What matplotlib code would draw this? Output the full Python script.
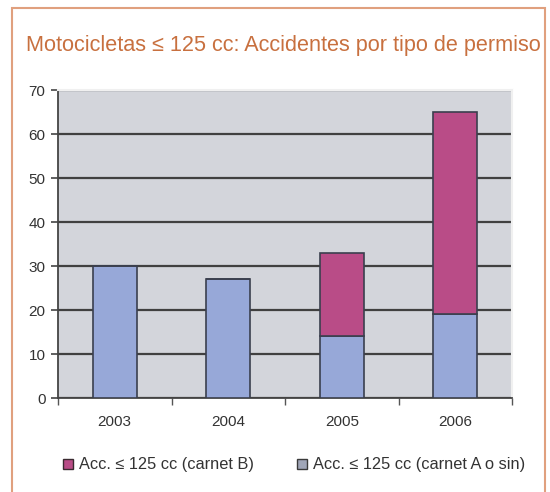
import matplotlib.pyplot as plt
from matplotlib.patches import Rectangle, Patch

# data
years = ['2003', '2004', '2005', '2006']
carnet_a = [30, 27, 14, 19]   # Acc. <= 125 cc (carnet A o sin)
carnet_b = [0, 0, 19, 46]     # Acc. <= 125 cc (carnet B), stacked on top
y_ticks = [0, 10, 20, 30, 40, 50, 60, 70]

blue = '#97A8D8'
pink = '#B94C87'
orange = '#C8703F'

plt.rcParams['font.family'] = ['Liberation Sans', 'DejaVu Sans']

fig = plt.figure(figsize=(5.5, 4.92), dpi=100)

# orange frame around the whole graphic
fig.patches.append(Rectangle((12 / 550, -0.05), 533 / 550, 1.05 - 8 / 492,
                             transform=fig.transFigure, fill=False,
                             edgecolor='#E0A07E', linewidth=1.5))

fig.text(283 / 550, 1 - 45 / 492, 'Motocicletas \u2264 125 cc: Accidentes por tipo de permiso',
         ha='center', va='center', color=orange, fontsize=15.6)

ax = fig.add_axes([58 / 550, 1 - 398 / 492, 454 / 550, 308 / 492])
ax.set_facecolor('#D3D5DB')

x = range(len(years))
ax.bar(x, carnet_a, width=0.39, color=blue, edgecolor='#3A3F4E', linewidth=1.2, zorder=3)
ax.bar(x, carnet_b, width=0.39, bottom=carnet_a, color=pink, edgecolor='#3A3F4E',
       linewidth=1.2, zorder=3)

ax.set_xlim(-0.5, 3.5)
ax.set_ylim(0, 70)
ax.set_yticks(y_ticks)
ax.yaxis.grid(True, color='#404040', linewidth=1.6, zorder=1)
ax.set_axisbelow(True)

ax.set_xticks(list(x))
ax.set_xticklabels(years)
ax.set_xticks([-0.5, 0.5, 1.5, 2.5, 3.5], minor=True)
ax.tick_params(axis='x', which='major', length=0, pad=12, labelsize=11, labelcolor='#333333')
ax.tick_params(axis='x', which='minor', length=5, width=1, color='#555555', direction='out')
ax.tick_params(axis='y', length=5, width=1.2, color='#444444', labelsize=11,
               labelcolor='#333333', pad=4)

for side in ['top', 'right']:
    ax.spines[side].set_color('#F0F0F0')
    ax.spines[side].set_linewidth(1.5)
for side in ['left', 'bottom']:
    ax.spines[side].set_color('#444444')
    ax.spines[side].set_linewidth(1.3)

handles = [Patch(facecolor=pink, edgecolor='#3A2A30', label='Acc. \u2264 125 cc (carnet B)'),
           Patch(facecolor='#A0A6B8', edgecolor='#3A3A3A', label='Acc. \u2264 125 cc (carnet A o sin)')]
fig.legend(handles=handles, loc='center', bbox_to_anchor=(294 / 550, 1 - 465 / 492), ncol=2,
           frameon=False, fontsize=11.8, handlelength=0.6, handleheight=0.6,
           handletextpad=0.4, columnspacing=2.6, labelcolor='#333333')

fig.savefig('out.png', dpi=100)
